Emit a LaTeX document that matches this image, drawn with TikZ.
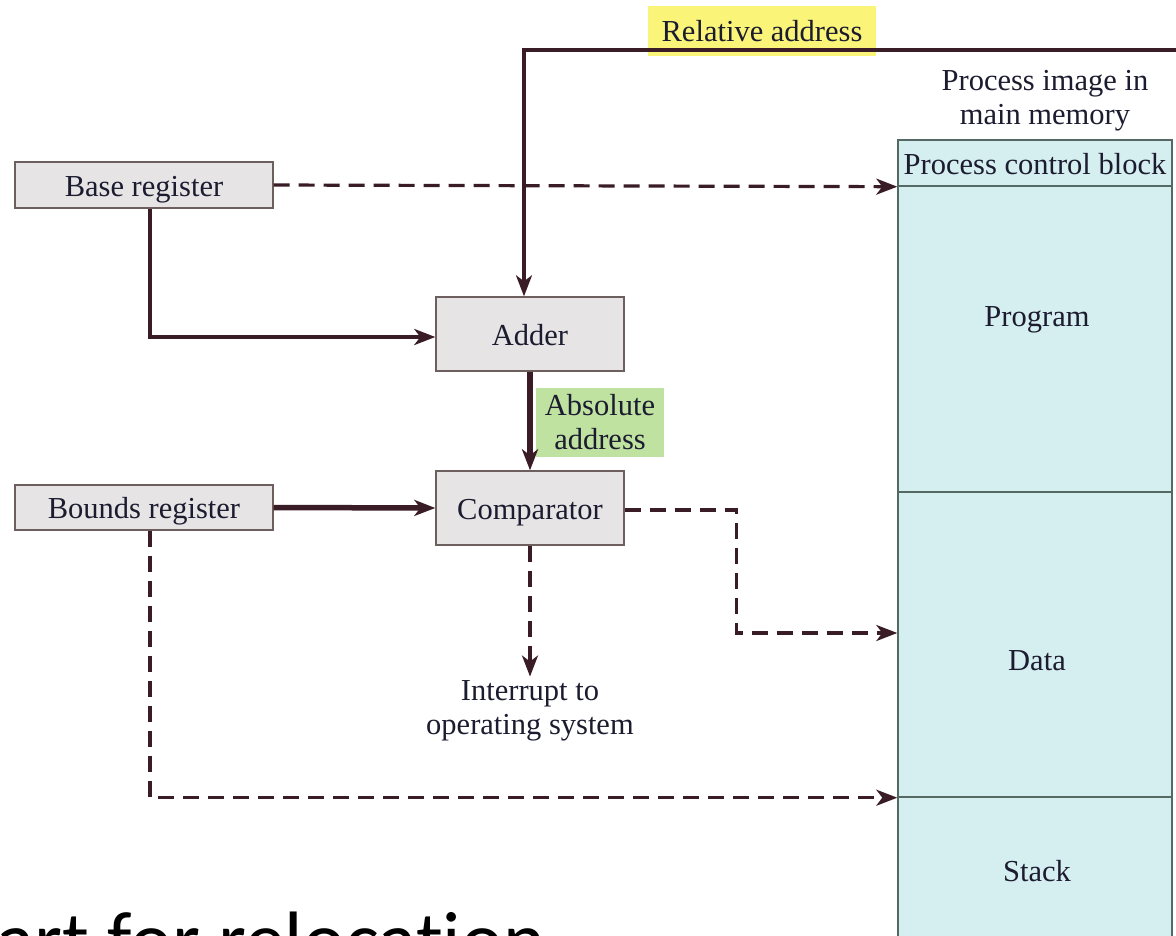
\documentclass[tikz,border=0pt]{standalone}
\usepackage{fontspec}
\setmainfont{Liberation Serif}
\newfontfamily\slidefont[Ligatures={NoCommon}]{Carlito}
\usetikzlibrary{arrows.meta}
\definecolor{wirec}{RGB}{58,28,38}
\definecolor{boxb}{RGB}{110,95,95}
\definecolor{boxf}{RGB}{230,228,228}
\definecolor{memb}{RGB}{85,105,100}
\definecolor{memf}{RGB}{213,238,240}
\definecolor{txtc}{RGB}{28,28,48}
\definecolor{hlyellow}{RGB}{250,245,120}
\definecolor{hlgreen}{RGB}{192,226,160}
\begin{document}
\begin{tikzpicture}[x=1pt,y=-1pt,
  every node/.style={text=txtc, font=\fontsize{30.5}{34}\selectfont},
  wire/.style={line width=3.2pt, draw=wirec},
  thickwire/.style={line width=5.5pt, draw=wirec},
  dwire/.style={wire, dash pattern=on 16pt off 9pt},
  tipped/.style={-{Stealth[length=21pt,width=16pt,inset=6pt]}},
  reg/.style={draw=boxb, fill=boxf, line width=1.4pt, inner sep=0pt, text height=24pt, text depth=2pt},
  seg/.style={draw=memb, fill=memf, line width=1.4pt, inner sep=0pt, minimum width=274pt},
  lbl/.style={align=center, inner sep=0pt}
]
\useasboundingbox (0,0) rectangle (1176,935);
\fill[white] (0,0) rectangle (1176,935);

% highlight of relative address
\node[fill=hlyellow, minimum width=228pt, minimum height=50pt, inner sep=0pt] (rel) at (762,31) {Relative address};

% memory image
\node[lbl] (pititle) at (1045,101) {Process image in\\main memory};
\node[seg, minimum height=46pt, text height=24pt, text depth=2pt] (pcb) at (1035,163) {Process control block};
\node[seg, minimum height=306pt] (prog) at (1035,339) {};
\node[seg, minimum height=305pt] (data) at (1035,644.5) {};
\node[seg, minimum height=150pt] (stack) at (1035,872) {};
\node[lbl] (progt) at (1037,320) {Program};
\node[lbl] (datat) at (1037,661) {Data};
\node[lbl] (stackt) at (1037,871) {Stack};

% registers and units
\node[reg, minimum width=258pt, minimum height=46pt] (base) at (144,185) {Base register};
\node[reg, minimum width=258pt, minimum height=45pt] (bounds) at (144,507.5) {Bounds register};
\node[reg, minimum width=188pt, minimum height=74pt] (adder) at (530,334) {Adder};
\node[reg, minimum width=188pt, minimum height=74pt] (comp) at (530,508) {Comparator};
\node[fill=hlgreen, minimum width=128pt, minimum height=69pt, align=center, inner sep=0pt] (abs) at (600,422.5) {Absolute\\address};
\node[lbl] (intr) at (530,711) {Interrupt to\\operating system};

% connectors
\coordinate (rin) at (1180,50);
\draw[wire, tipped] (rin) -- ([xshift=-6pt]adder.north |- rin) -- ([xshift=-6pt]adder.north);
\draw[dwire, tipped] (base.east) -- (pcb.south west);
\draw[wire, line width=3.8pt, tipped] ([xshift=6pt]base.south) |- ([yshift=-3pt]adder.west);
\draw[thickwire, tipped] (adder.south) -- (comp.north);
\draw[thickwire, tipped] (bounds.east) -- (comp.west);
\draw[dwire, tipped] ([yshift=-2pt]comp.east) -- ++(112,0) |- ([yshift=11.5pt]data.west);
\draw[dwire, tipped] (comp.south) -- ([yshift=4pt]intr.north);
\draw[dwire, tipped] ([xshift=6pt]bounds.south) |- (data.south west);

% slide caption, cut off by the page edge
\node[anchor=base west, inner sep=0pt, text=black, font=\slidefont\fontsize{80}{90}\selectfont] (cap) at (-4,967) {art for relocation};
\end{tikzpicture}
\end{document}
